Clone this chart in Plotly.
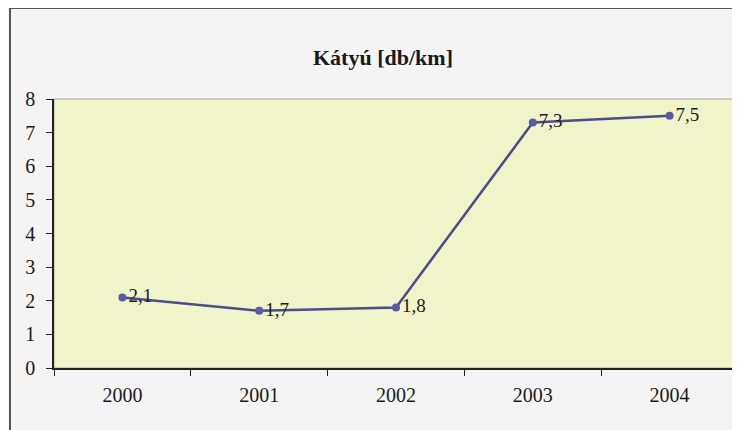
import plotly.graph_objects as go

years = ["2000", "2001", "2002", "2003", "2004"]
values = [2.1, 1.7, 1.8, 7.3, 7.5]
labels = ["2,1", "1,7", "1,8", "7,3", "7,5"]
title_text = "Kátyú [db/km]"

# the page body adds an 8px margin; work in page pixels and shift
OFF = 8
W, H = 740 - OFF, 430 - OFF
L, R, T, B = 54 - OFF, 738 - OFF, 99 - OFF, 368 - OFF
pw, ph = R - L, B - T

def px(x):
    return (x - OFF - L) / pw

def py(y):
    return (B - (y - OFF)) / ph

SERIF = "'Liberation Serif', 'DejaVu Serif', serif"

fig = go.Figure()
fig.add_trace(go.Scatter(
    x=years, y=values, text=labels,
    mode="lines+markers+text",
    textposition="middle right",
    textfont=dict(family=SERIF, size=19, color="#1a1a1a"),
    line=dict(color="#4b4b8f", width=2.5),
    marker=dict(color="#5a5aa8", size=8),
    cliponaxis=False,
    showlegend=False,
))

axis_font = dict(family=SERIF, size=20, color="#1a1a1a")

fig.update_layout(
    width=W, height=H,
    margin=dict(l=L, r=W - R, t=T, b=H - B, autoexpand=False),
    paper_bgcolor="#f4f4f4",
    plot_bgcolor="#f0f4c8",
    font=dict(family=SERIF, size=18, color="#1a1a1a"),
    xaxis=dict(
        type="category", range=[-0.5, 4.5], tickson="boundaries",
        ticks="outside", ticklen=6, tickcolor="#222222",
        showline=True, linecolor="#222222", linewidth=1.5,
        showgrid=False, zeroline=False, ticklabelstandoff=8,
        tickfont=axis_font,
    ),
    yaxis=dict(
        range=[0, 8], dtick=1, ticks="outside", ticklen=6, tickcolor="#222222",
        showline=True, linecolor="#222222", linewidth=1.5,
        showgrid=False, zeroline=False, ticklabelstandoff=7,
        tickfont=axis_font,
    ),
    shapes=[
        dict(type="rect", xref="paper", yref="paper",
             x0=0, x1=1, y0=0, y1=1,
             line=dict(color="#a8a8a8", width=1), layer="below"),
        dict(type="rect", xref="paper", yref="paper",
             x0=px(10), x1=px(752), y0=py(442), y1=py(8),
             line=dict(color="#555555", width=2)),
    ],
    annotations=[
        dict(text="<b>" + title_text + "</b>", xref="paper", yref="paper",
             x=px(383), y=py(43), showarrow=False,
             font=dict(family=SERIF, size=22, color="#1a1a1a")),
    ],
)

fig.write_html("out.html")
